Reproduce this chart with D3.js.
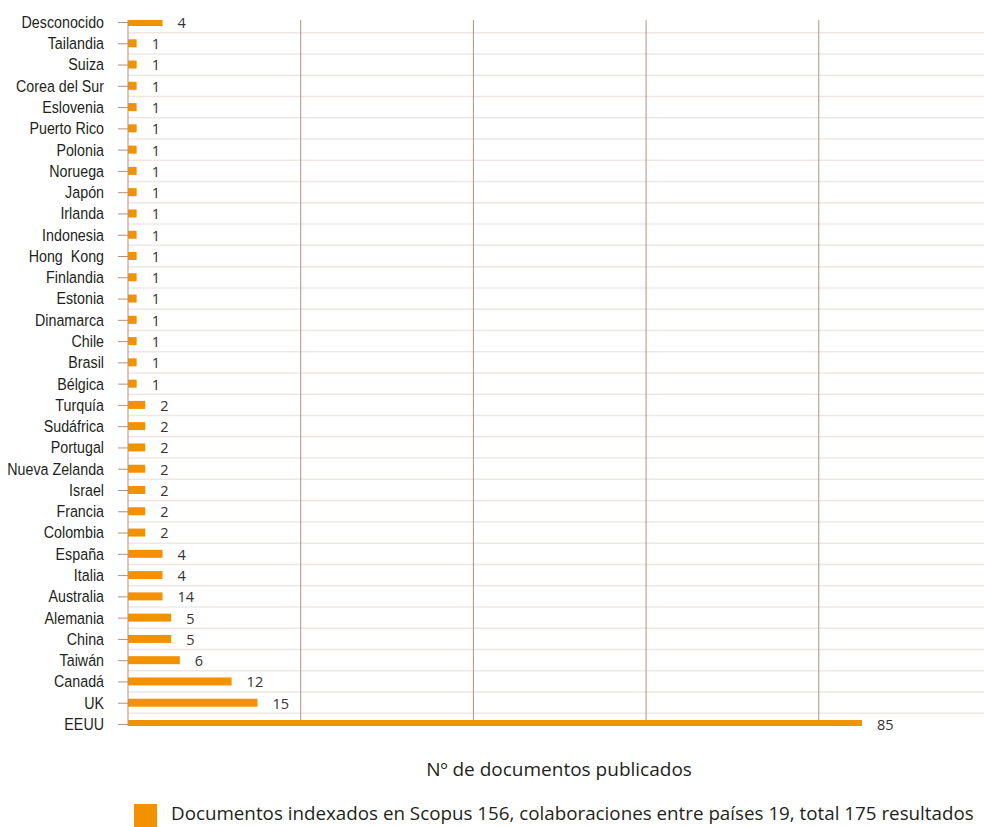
<!DOCTYPE html>
<html>
<head>
<meta charset="utf-8">
<script src="https://cdn.jsdelivr.net/npm/d3@7"></script>
<style>
  body { margin: 0; background: #fff; }
  svg { display: block; }
</style>
</head>
<body>
<div id="vis"></div>
<script>
// categories from top to bottom, as in the picture
const countries = ["Desconocido", "Tailandia", "Suiza", "Corea del Sur", "Eslovenia",
  "Puerto Rico", "Polonia", "Noruega", "Japón", "Irlanda", "Indonesia", "Hong  Kong",
  "Finlandia", "Estonia", "Dinamarca", "Chile", "Brasil", "Bélgica", "Turquía",
  "Sudáfrica", "Portugal", "Nueva Zelanda", "Israel", "Francia", "Colombia", "España",
  "Italia", "Australia", "Alemania", "China", "Taiwán", "Canadá", "UK", "EEUU"];

// bar lengths as drawn
const docs = [4, 1, 1, 1, 1, 1, 1, 1, 1, 1, 1, 1, 1, 1, 1, 1, 1, 1, 2,
  2, 2, 2, 2, 2, 2, 4, 4, 4, 5, 5, 6, 12, 15, 85];

// printed labels (Australia bar is drawn at 4 but labelled 14 in the source)
const docLabels = ["4", "1", "1", "1", "1", "1", "1", "1", "1", "1", "1", "1", "1", "1", "1", "1", "1", "1", "2",
  "2", "2", "2", "2", "2", "2", "4", "4", "14", "5", "5", "6", "12", "15", "85"];

const xTicks = [20, 40, 60, 80, 100];
const xTitle = "Nº de documentos publicados";
const legendText = "Documentos indexados en Scopus 156, colaboraciones entre países 19, total 175 resultados";

const width = 984, height = 827;
const plot = {left: 128, right: 991.5, top: 20, bottom: 726};
const orange = "#f39200", gridDark = "#b5917f", gridLight = "#efe7e4";
const narrow = 0.84; // horizontal squeeze to mimic the condensed label font

const svg = d3.select("#vis").append("svg")
  .attr("width", width).attr("height", height);

const x = d3.scaleLinear().domain([0, 100]).range([plot.left, plot.right]);
const y = d3.scalePoint().domain(countries).range([22, 724]);
const step = y.step();

svg.append("clipPath").attr("id", "plotclip")
  .append("rect")
  .attr("x", plot.left).attr("y", plot.top)
  .attr("width", plot.right - plot.left).attr("height", plot.bottom - plot.top);

// light horizontal gridlines between the categories
svg.append("g").selectAll("line")
  .data(countries.slice(1))
  .join("line")
  .attr("x1", plot.left).attr("x2", width)
  .attr("y1", d => y(d) - step / 2).attr("y2", d => y(d) - step / 2)
  .attr("stroke", gridLight).attr("stroke-width", 1.5);

// vertical gridlines
svg.append("g").selectAll("line")
  .data(xTicks)
  .join("line")
  .attr("x1", d => x(d)).attr("x2", d => x(d))
  .attr("y1", plot.top).attr("y2", plot.bottom)
  .attr("stroke", gridDark).attr("stroke-width", 1);

// bars
svg.append("g").attr("clip-path", "url(#plotclip)")
  .selectAll("rect")
  .data(countries)
  .join("rect")
  .attr("x", x(0))
  .attr("y", d => y(d) - 4)
  .attr("width", (d, i) => x(docs[i]) - x(0))
  .attr("height", 8)
  .attr("fill", orange);

// left axis with ticks
const yAxis = svg.append("g")
  .attr("transform", `translate(${plot.left},0)`)
  .call(d3.axisLeft(y).tickSize(10).tickPadding(14));
yAxis.select(".domain").attr("d", `M0,${plot.top}V${plot.bottom}`)
  .attr("stroke", gridDark);
yAxis.selectAll(".tick line").attr("stroke", gridDark);
yAxis.selectAll(".tick text")
  .attr("x", -24 / narrow)
  .attr("transform", `scale(${narrow},1)`)
  .attr("fill", "#231f20")
  .style("font-family", "'Liberation Sans', Arial, sans-serif")
  .style("font-size", "17px")
  .style("white-space", "pre");

// value labels
svg.append("g").selectAll("text")
  .data(countries)
  .join("text")
  .attr("x", (d, i) => x(docs[i]) + 15)
  .attr("y", d => y(d) + 2)
  .attr("dominant-baseline", "middle")
  .attr("fill", "#333")
  .style("font-family", "'Open Sans', sans-serif")
  .style("font-size", "14.5px")
  .text((d, i) => docLabels[i]);

// axis title
svg.append("text")
  .attr("x", 559).attr("y", 776)
  .attr("text-anchor", "middle")
  .attr("fill", "#231f20")
  .style("font-family", "'Open Sans', sans-serif")
  .style("font-size", "19px")
  .text(xTitle);

// legend
svg.append("rect")
  .attr("x", 134).attr("y", 804)
  .attr("width", 23).attr("height", 23)
  .attr("fill", orange);
svg.append("text")
  .attr("x", 171).attr("y", 820)
  .attr("fill", "#231f20")
  .style("font-family", "'Open Sans', sans-serif")
  .style("font-size", "18.8px")
  .text(legendText);
</script>
</body>
</html>
